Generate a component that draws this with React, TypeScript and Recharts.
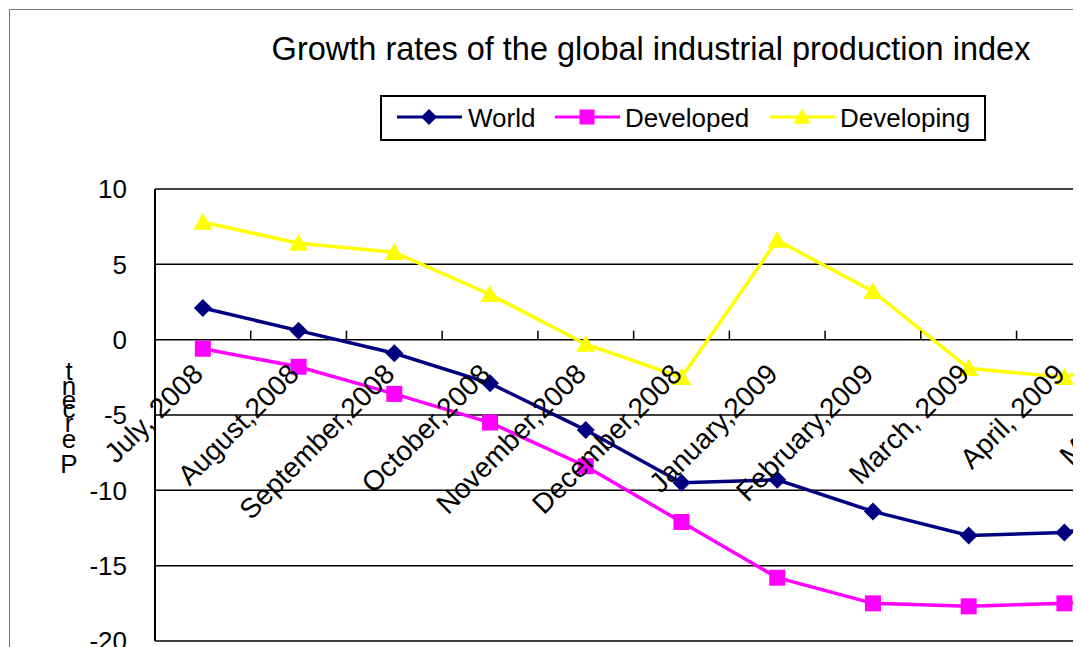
import React from 'react';
import { LineChart, Line, XAxis, YAxis, CartesianGrid, Legend } from 'recharts';

const months = [
  'July, 2008',
  'August,2008',
  'September,2008',
  'October,2008',
  'November,2008',
  'December,2008',
  'January,2009',
  'February,2009',
  'March, 2009',
  'April, 2009',
  'May, 2009',
];
const worldValues = [2.1, 0.6, -0.9, -2.9, -6.0, -9.5, -9.3, -11.4, -13.0, -12.8, -11.5];
const developedValues = [-0.6, -1.8, -3.6, -5.5, -8.4, -12.1, -15.8, -17.5, -17.7, -17.5, -17.0];
const developingValues = [7.8, 6.4, 5.8, 3.0, -0.3, -2.5, 6.6, 3.2, -1.9, -2.5, -0.5];
const yTicks = [10, 5, 0, -5, -10, -15, -20];
const seriesNames = ['World', 'Developed', 'Developing'];
const titleText = 'Growth rates of the global industrial production index';
const yLabel = 'Percent';

const data = months.map((m, i) => ({
  month: m,
  World: worldValues[i],
  Developed: developedValues[i],
  Developing: developingValues[i],
}));

const NAVY = '#000080';
const MAGENTA = '#FF00FF';
const YELLOW = '#FFFF00';
const FONT = '"Liberation Sans", Arial, sans-serif';

const CHART_W = 1300;
const CHART_H = 700;
const MARGIN = { top: 179, right: 102, bottom: 68, left: 85 };
const Y_W = 60;
const X_H = 1;
const PLOT_TOP = MARGIN.top;
const PLOT_H = CHART_H - MARGIN.top - MARGIN.bottom - X_H;
const PLOT_W = CHART_W - MARGIN.left - Y_W - MARGIN.right;
const Y_MAX = 10;
const Y_MIN = -20;
const ZERO_Y = PLOT_TOP + (PLOT_H * (Y_MAX - 0)) / (Y_MAX - Y_MIN);
const STEP = PLOT_W / months.length;

const MonthTick = (props: any) => {
  const { x, payload } = props;
  const ax = x + 2;
  const ay = ZERO_Y + 36;
  const bx = x + STEP / 2;
  return (
    <g>
      <line x1={bx} x2={bx} y1={ZERO_Y} y2={ZERO_Y - 9} stroke="#000" strokeWidth={1.5} />
      <text
        x={ax}
        y={ay}
        textAnchor="end"
        transform={`rotate(-45 ${ax} ${ay})`}
        fontSize={28}
        fontFamily={FONT}
        fill="#000"
      >
        {payload.value}
      </text>
    </g>
  );
};

const diamondPts = (cx: number, cy: number, r: number) =>
  `${cx},${cy - r} ${cx + r},${cy} ${cx},${cy + r} ${cx - r},${cy}`;
const trianglePts = (cx: number, cy: number, r: number) =>
  `${cx},${cy - r} ${cx + r},${cy + r * 0.8} ${cx - r},${cy + r * 0.8}`;

const DiamondDot = (p: any) => {
  const { cx, cy, index } = p;
  if (cx == null || cy == null) return <g key={`wd-${index}`} />;
  return <polygon key={`wd-${index}`} points={diamondPts(cx, cy, 9)} fill={NAVY} />;
};
const SquareDot = (p: any) => {
  const { cx, cy, index } = p;
  if (cx == null || cy == null) return <g key={`sd-${index}`} />;
  return <rect key={`sd-${index}`} x={cx - 8} y={cy - 8} width={16} height={16} fill={MAGENTA} />;
};
const TriangleDot = (p: any) => {
  const { cx, cy, index } = p;
  if (cx == null || cy == null) return <g key={`td-${index}`} />;
  return <polygon key={`td-${index}`} points={trianglePts(cx, cy, 9.5)} fill={YELLOW} />;
};

const LegendBox = () => {
  const items = [
    { name: seriesNames[0], color: NAVY, lx: 17, tx: 88, shape: 'diamond' },
    { name: seriesNames[1], color: MAGENTA, lx: 175, tx: 245, shape: 'square' },
    { name: seriesNames[2], color: YELLOW, lx: 390, tx: 460, shape: 'triangle' },
  ];
  const cy = 22;
  return (
    <svg width={606} height={46} style={{ display: 'block' }}>
      <rect x={1} y={1} width={604} height={44} fill="#fff" stroke="#000" strokeWidth={2} />
      {items.map((it) => {
        const mx = it.lx + 32;
        return (
          <g key={it.name}>
            <line x1={it.lx} x2={it.lx + 65} y1={cy} y2={cy} stroke={it.color} strokeWidth={3} />
            {it.shape === 'diamond' && <polygon points={diamondPts(mx, cy, 8)} fill={it.color} />}
            {it.shape === 'square' && (
              <rect x={mx - 7.5} y={cy - 7.5} width={15} height={15} fill={it.color} />
            )}
            {it.shape === 'triangle' && <polygon points={trianglePts(mx, cy, 8.5)} fill={it.color} />}
            <text x={it.tx} y={cy + 9.5} fontSize={26} fontFamily={FONT} fill="#000">
              {it.name}
            </text>
          </g>
        );
      })}
    </svg>
  );
};

const PercentLabel = () => {
  const letters = yLabel.split('');
  const baselines = [463, 438, 422, 408, 399, 385, 370];
  return (
    <g>
      {letters.map((ch, i) => (
        <text
          key={i}
          x={59}
          y={baselines[i]}
          textAnchor="middle"
          fontSize={26}
          fontFamily={FONT}
          fill="#000"
        >
          {ch}
        </text>
      ))}
    </g>
  );
};

export default function App() {
  return (
    <div
      style={{
        position: 'relative',
        left: 1,
        top: 1,
        width: 1072,
        height: 638,
        overflow: 'hidden',
        borderLeft: '1px solid #777',
        borderTop: '1px solid #777',
        background: '#fff',
      }}
    >
      <svg
        width={1072}
        height={80}
        style={{ position: 'absolute', left: 0, top: 0, zIndex: 2 }}
      >
        <text x={641} y={50} textAnchor="middle" fontSize={32.5} fontFamily={FONT} fill="#000">
          {titleText}
        </text>
      </svg>
      <div style={{ position: 'absolute', left: 0, top: 0 }}>
        <LineChart width={CHART_W} height={CHART_H} data={data} margin={MARGIN}>
          <CartesianGrid horizontal vertical={false} stroke="#000" strokeWidth={1.5} />
          <XAxis
            dataKey="month"
            scale="band"
            height={X_H}
            interval={0}
            axisLine={false}
            tickLine={false}
            tick={<MonthTick />}
          />
          <YAxis
            width={Y_W}
            domain={[Y_MIN, Y_MAX]}
            ticks={yTicks}
            interval={0}
            axisLine={{ stroke: '#000', strokeWidth: 2 }}
            tickLine={false}
            tickSize={6}
            tickMargin={22}
            tick={{ fontSize: 26, fontFamily: FONT, fill: '#000' }}
            label={{ content: <PercentLabel /> }}
          />
          <Legend
            layout="horizontal"
            verticalAlign="middle"
            align="center"
            content={<LegendBox />}
            wrapperStyle={{ top: 85, left: 370, width: 606, height: 46 }}
          />
          <Line
            type="linear"
            dataKey="Developing"
            stroke={YELLOW}
            strokeWidth={3.5}
            dot={(p: any) => <TriangleDot {...p} key={`t-${p.index}`} />}
            isAnimationActive={false}
          />
          <Line
            type="linear"
            dataKey="World"
            stroke={NAVY}
            strokeWidth={3.5}
            dot={(p: any) => <DiamondDot {...p} key={`w-${p.index}`} />}
            isAnimationActive={false}
          />
          <Line
            type="linear"
            dataKey="Developed"
            stroke={MAGENTA}
            strokeWidth={3.5}
            dot={(p: any) => <SquareDot {...p} key={`s-${p.index}`} />}
            isAnimationActive={false}
          />
        </LineChart>
      </div>
    </div>
  );
}
